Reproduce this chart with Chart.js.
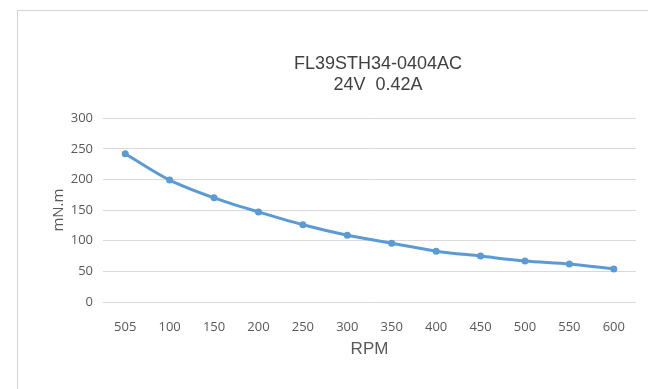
<!DOCTYPE html>
<html>
<head>
<meta charset="utf-8">
<script src="https://cdn.jsdelivr.net/npm/chart.js@4.4.0/dist/chart.umd.min.js"></script>
<style>
  html, body { margin: 0; padding: 0; background: #fff; overflow: hidden; }
  #marco {
    position: absolute; left: 17px; top: 10px;
    width: 720px; height: 400px;
    border: 1px solid #d4d4d4; background: #fff;
  }
  #marco canvas { display: block; }
</style>
</head>
<body>
<div id="marco"><canvas id="lineChart" width="720" height="400"></canvas></div>
<script>
// Datos
const rpm = ['505', '100', '150', '200', '250', '300', '350', '400', '450', '500', '550', '600'];
const par = [242, 199, 170, 147, 126, 109, 96, 83, 75, 67, 62, 54];
const titulo = ['FL39STH34-0404AC', '24V  0.42A'];
const ejeY = 'mN.m';
const ejeX = 'RPM';

const canvas = document.getElementById('lineChart');

new Chart(canvas, {
    type: 'line',
    data: {
        labels: rpm,
        datasets: [{
            data: par,
            borderColor: '#5B9BD5',
            backgroundColor: '#5B9BD5',
            borderWidth: 3,
            pointRadius: 3.5,
            pointBorderWidth: 0,
            tension: 0.3,
            fill: false
        }]
    },
    options: {
        responsive: false,
        animation: false,
        layout: {
            padding: { left: 32, right: 32, top: 0, bottom: 51 }
        },
        plugins: {
            legend: { display: false },
            tooltip: { enabled: false },
            title: {
                display: true,
                text: titulo,
                color: '#404040',
                font: { family: 'Liberation Sans', size: 18, weight: 'normal', lineHeight: 1.2 },
                padding: { top: 42, bottom: 22 }
            }
        },
        scales: {
            x: {
                offset: true,
                grid: { display: false, drawTicks: false },
                border: { display: false },
                ticks: {
                    color: '#595959',
                    font: { family: 'Open Sans', size: 13 },
                    padding: 17,
                    maxRotation: 0
                },
                title: {
                    display: true,
                    text: ejeX,
                    color: '#595959',
                    font: { family: 'Liberation Sans', size: 17 },
                    padding: 0
                },
                afterFit: (scale) => { scale.height = 58; }
            },
            y: {
                min: 0,
                max: 300,
                grid: { color: '#d9d9d9', lineWidth: 1, drawTicks: false },
                border: { display: false },
                ticks: {
                    stepSize: 50,
                    color: '#595959',
                    font: { family: 'Open Sans', size: 13 },
                    padding: 10
                },
                title: {
                    display: true,
                    text: ejeY,
                    color: '#595959',
                    font: { family: 'Open Sans', size: 15 },
                    padding: 0
                },
                afterFit: (scale) => { scale.width = 53; }
            },
            // eje vacio a la derecha, solo reserva el espacio del grafico
            derecha: {
                position: 'right',
                min: 0,
                max: 300,
                grid: { display: false },
                border: { display: false },
                ticks: { display: false },
                afterFit: (scale) => { scale.width = 70; }
            }
        }
    }
});
</script>
</body>
</html>
